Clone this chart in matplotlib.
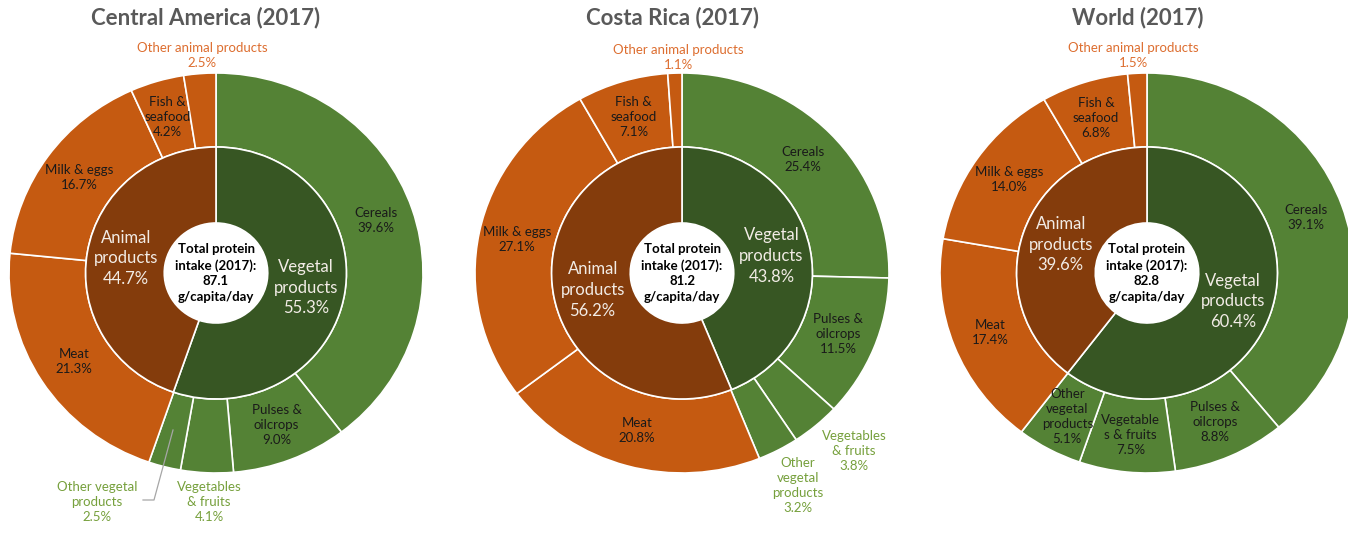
import matplotlib.pyplot as plt
import numpy as np

plt.rcParams['font.family'] = ['Lato', 'DejaVu Sans']

# protein supply shares (%), 2017
regions = ["Central America", "Costa Rica", "World"]
totals = [87.1, 81.2, 82.8]
group_names = ["Vegetal products", "Animal products"]
group_shares = {
    "Central America": [55.3, 44.7],
    "Costa Rica": [43.8, 56.2],
    "World": [60.4, 39.6],
}
item_names = ["Cereals", "Pulses & oilcrops", "Vegetables & fruits", "Other vegetal products",
              "Meat", "Milk & eggs", "Fish & seafood", "Other animal products"]
item_shares = {
    "Central America": [39.6, 9.0, 4.1, 2.5, 21.3, 16.7, 4.2, 2.5],
    "Costa Rica": [25.4, 11.5, 3.8, 3.2, 20.8, 27.1, 7.1, 1.1],
    "World": [39.1, 8.8, 7.5, 5.1, 17.4, 14.0, 6.8, 1.5],
}

# how each label is broken onto lines, per chart
item_text = {
    "Central America": ["Cereals", "Pulses &\noilcrops", "Vegetables\n& fruits", "Other vegetal\nproducts",
                        "Meat", "Milk & eggs", "Fish &\nseafood", "Other animal products"],
    "Costa Rica": ["Cereals", "Pulses &\noilcrops", "Vegetables\n& fruits", "Other\nvegetal\nproducts",
                   "Meat", "Milk & eggs", "Fish &\nseafood", "Other animal products"],
    "World": ["Cereals", "Pulses &\noilcrops", "Vegetable\ns & fruits", "Other\nvegetal\nproducts",
              "Meat", "Milk & eggs", "Fish &\nseafood", "Other animal products"],
}

GREEN = "#548235"
DARK_GREEN = "#375623"
ORANGE = "#C55A11"
BROWN = "#843C0C"
GREEN_TXT = "#76A03C"
ORANGE_TXT = "#DD6E30"

W, H = 1348, 543
SX, SY = 207.0, 200.0        # pixels per unit radius (x, y)
centres = {"Central America": (216, 273), "Costa Rica": (682, 273), "World": (1147, 273)}
title_x = {"Central America": 206, "Costa Rica": 672, "World": 1138}

# labels drawn outside the ring: pixel position of the label centre
outside = {
    "Central America": {7: (202, 56), 3: (97, 502), 2: (209, 502)},
    "Costa Rica": {7: (678, 58), 2: (854, 451), 3: (798, 486)},
    "World": {7: (1133, 56)},
}

fig = plt.figure(figsize=(W / 100, H / 100), dpi=100)

for region, total in zip(regions, totals):
    cx, cy = centres[region]
    ax = fig.add_axes([0, 0, 1, 1])
    ax.patch.set_alpha(0)

    def px(x, y):
        return (x - cx) / SX, (cy - y) / SY

    items = item_shares[region]
    groups = group_shares[region]
    wedges, _ = ax.pie(items, radius=1.0, startangle=90, counterclock=False,
                       colors=[GREEN] * 4 + [ORANGE] * 4,
                       wedgeprops=dict(width=0.37, edgecolor="white", linewidth=1.2))
    inner, _ = ax.pie(groups, radius=0.63, startangle=90, counterclock=False,
                      colors=[DARK_GREEN, BROWN],
                      wedgeprops=dict(width=0.38, edgecolor="white", linewidth=1.2))
    ax.set_aspect("auto")
    ax.set_xlim(-cx / SX, (W - cx) / SX)
    ax.set_ylim(-(H - cy) / SY, cy / SY)
    ax.axis("off")

    for i, (w, name, val) in enumerate(zip(wedges, item_text[region], items)):
        label = f"{name}\n{val:.1f}%"
        if i in outside[region]:
            x, y = px(*outside[region][i])
            col = GREEN_TXT if i < 4 else ORANGE_TXT
        else:
            ang = np.deg2rad((w.theta1 + w.theta2) / 2)
            x, y = 0.815 * np.cos(ang), 0.815 * np.sin(ang)
            col = "#1A1A1A"
        ax.text(x, y, label, ha="center", va="center", fontsize=9.5, color=col, linespacing=1.3)

    for w, name, val in zip(inner, group_names, groups):
        ang = np.deg2rad((w.theta1 + w.theta2) / 2)
        x, y = 0.44 * np.cos(ang), 0.44 * np.sin(ang)
        ax.text(x, y, name.replace(" ", "\n") + f"\n{val:.1f}%", ha="center", va="center",
                fontsize=12, color="#F2ECE6", linespacing=1.35)

    # leader line for the thin "Other vegetal" slice of Central America
    if region == "Central America":
        lx = [143, 154, 173]
        ly = [500, 500, 430]
        pts = [px(a, b) for a, b in zip(lx, ly)]
        ax.plot([p[0] for p in pts], [p[1] for p in pts], color="#A6A6A6", lw=0.9)

    ax.text(0, 0, f"Total protein\nintake (2017):\n{total}\ng/capita/day", ha="center",
            va="center", fontsize=9.5, fontweight="bold", color="black", linespacing=1.35)

    tx, ty = px(title_x[region], 18)
    ax.text(tx, ty, f"{region} (2017)", ha="center", va="center", fontsize=16,
            fontweight="bold", color="#595959")

fig.savefig("out.png", dpi=100)
